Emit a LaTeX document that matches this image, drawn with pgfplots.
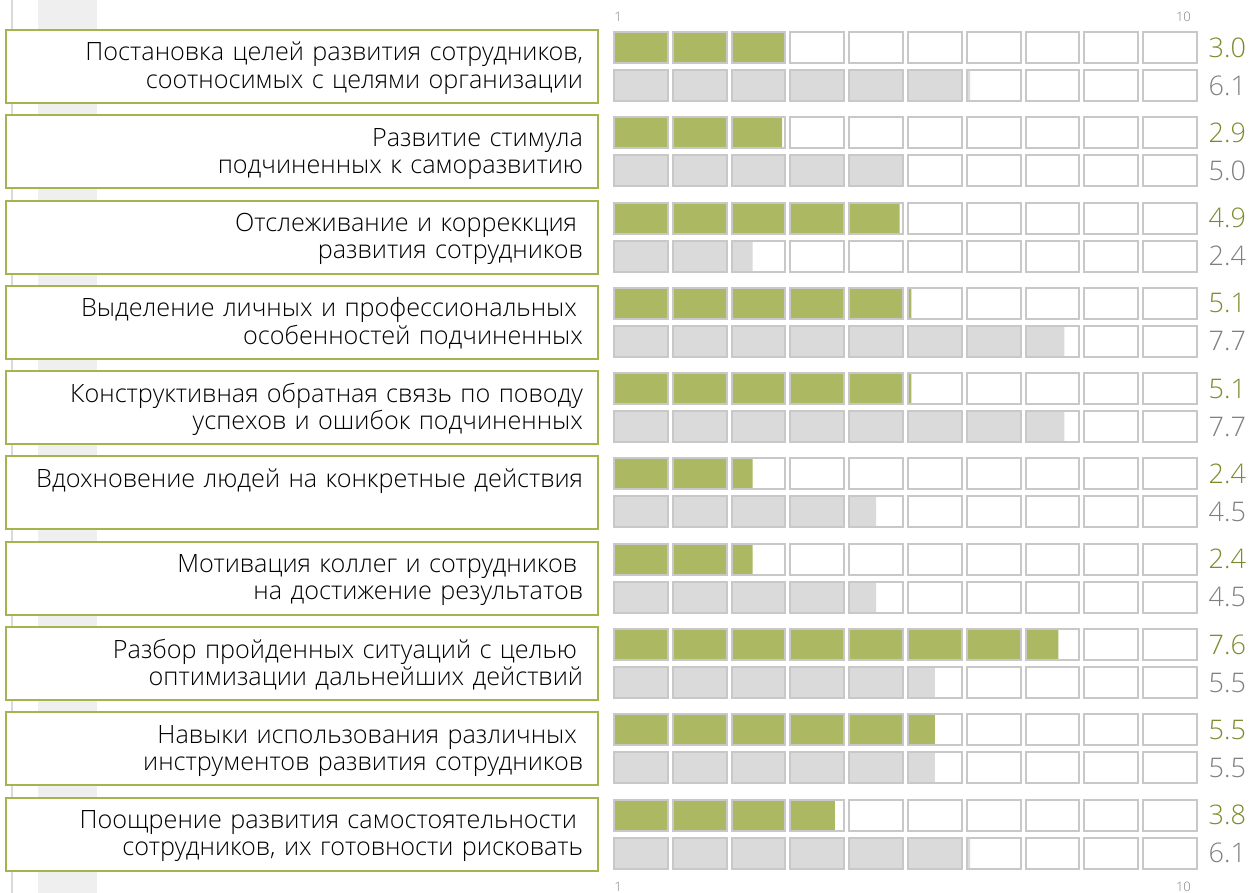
\documentclass[border=0pt]{standalone}
\usepackage{fontspec}
\IfFontExistsTF{Open Sans Light}{\setmainfont{Open Sans Light}}{\setmainfont{Open Sans}}
\usepackage{pgfplots}
\pgfplotsset{compat=1.18}
\usepackage{pgfplotstable}
\definecolor{barGreen}{HTML}{ADB962}
\definecolor{barGrey}{HTML}{DADADA}
\definecolor{cellBorder}{HTML}{C8C8C8}
\definecolor{boxGreen}{HTML}{A4B44E}
\definecolor{valGreen}{HTML}{7B8B2C}
\definecolor{valGrey}{HTML}{7F7F7F}
\definecolor{stripGrey}{HTML}{EFEFEF}
\definecolor{lineGrey}{HTML}{D9D9D9}

\pgfplotstableread{
y v
47.5 3.0
132.8 2.9
218.1 4.9
303.4 5.1
388.7 5.1
474.0 2.4
559.3 2.4
644.6 7.6
729.9 5.5
815.2 3.8
}\greendata
\pgfplotstableread{
y v
85.5 6.1
170.8 5.0
256.1 2.4
341.4 7.7
426.7 7.7
512.0 4.5
597.3 4.5
682.6 5.5
767.9 5.5
853.2 6.1
}\greydata

\begin{document}
\begin{tikzpicture}
% background decorations (pixel -> pt: x=(px-611.5)/2, y=(893-py)/2)
\fill[stripGrey] (-286.75pt,0pt) rectangle (-257.25pt,446.5pt);
\fill[lineGrey] (-300.25pt,0pt) rectangle (-299.25pt,446.5pt);
\begin{axis}[
  at={(0pt,0pt)}, anchor=south west,
  scale only axis,
  width=294pt, height=446.5pt,
  xmin=0, xmax=10, ymin=0, ymax=893,
  y dir=reverse,
  clip=false,
  axis line style={draw=none},
  tick style={draw=none},
  major tick length=0pt,
  xtick=\empty,
  ytick={66.5,151.8,237.1,322.4,407.7,493.0,578.3,663.6,748.9,834.2},
  yticklabels={
    {\mbox{Постановка целей развития сотрудников,}\\\mbox{соотносимых с целями организации}},
    {\mbox{Развитие стимула}\\\mbox{подчиненных к саморазвитию}},
    {\mbox{Отслеживание и корреккция}\kern3pt\\\mbox{развития сотрудников}},
    {\mbox{Выделение личных и профессиональных}\kern3pt\\\mbox{особенностей подчиненных}},
    {\mbox{Конструктивная обратная связь по поводу}\\\mbox{успехов и ошибок подчиненных}},
    {\mbox{Вдохновение людей на конкретные действия}\\\mbox{}},
    {\mbox{Мотивация коллег и сотрудников}\kern3pt\\\mbox{на достижение результатов}},
    {\mbox{Разбор пройденных ситуаций с целью}\kern3pt\\\mbox{оптимизации дальнейших действий}},
    {\mbox{Навыки использования различных}\kern3pt\\\mbox{инструментов развития сотрудников}},
    {\mbox{Поощрение развития самостоятельности}\kern3pt\\\mbox{сотрудников, их готовности рисковать}}
  },
  yticklabel style={anchor=east, xshift=-6.25pt, draw=boxGreen, line width=1pt, fill=white,
    text width=281pt, align=right, inner xsep=7.5pt, inner ysep=0pt,
    text height=15.5pt, text depth=21pt,
    font=\fontsize{12.6}{13.6}\selectfont, text=black},
  /pgf/number format/assume math mode=true,
]
\path (axis cs:-10.40,0) rectangle (axis cs:11.012,893);

% bars
\addplot[xbar, bar width=31, bar shift=0pt, fill=barGreen, draw=none] table[x=v, y=y] {\greendata};
\addplot[xbar, bar width=31, bar shift=0pt, fill=barGrey, draw=none] table[x=v, y=y] {\greydata};

% cell gaps and borders
\pgfplotsinvokeforeach{47.5,85.5,132.8,170.8,218.1,256.1,303.4,341.4,388.7,426.7,474.0,512.0,559.3,597.3,644.6,682.6,729.9,767.9,815.2,853.2}{
  \fill[white] foreach \k in {0,...,10} {(axis cs:{\k-0.0425},{#1-17}) rectangle (axis cs:{\k+0.0425},{#1+17})};
  \draw[cellBorder, line width=1pt] foreach \k in {0,...,9} {(axis cs:{\k+0.0425},{#1-15.5}) rectangle (axis cs:{\k+0.9575},{#1+15.5})};
}

% value labels
\addplot[draw=none, mark=none, point meta=explicit,
  nodes near coords={\pgfmathprintnumber[fixed,fixed zerofill,precision=1]{\pgfplotspointmeta}},
  every node near coord/.style={anchor=west, inner sep=0pt, text=valGreen, font=\fontsize{13.5}{13.5}\selectfont}]
  table[x expr=10.15, y=y, meta=v] {\greendata};
\addplot[draw=none, mark=none, point meta=explicit,
  nodes near coords={\pgfmathprintnumber[fixed,fixed zerofill,precision=1]{\pgfplotspointmeta}},
  every node near coord/.style={anchor=west, inner sep=0pt, text=valGrey, font=\fontsize{13.5}{13.5}\selectfont}]
  table[x expr=10.15, y=y, meta=v] {\greydata};

% scale labels
\node[anchor=west, inner sep=0pt, text=valGrey, font=\fontsize{6.5}{6.5}\selectfont] at (axis cs:0.04,16.5) {1};
\node[anchor=east, inner sep=0pt, text=valGrey, font=\fontsize{6.5}{6.5}\selectfont] at (axis cs:9.86,16.5) {10};
\node[anchor=west, inner sep=0pt, text=valGrey, font=\fontsize{6.5}{6.5}\selectfont] at (axis cs:0.04,886.5) {1};
\node[anchor=east, inner sep=0pt, text=valGrey, font=\fontsize{6.5}{6.5}\selectfont] at (axis cs:9.86,886.5) {10};
\end{axis}
\end{tikzpicture}
\end{document}
